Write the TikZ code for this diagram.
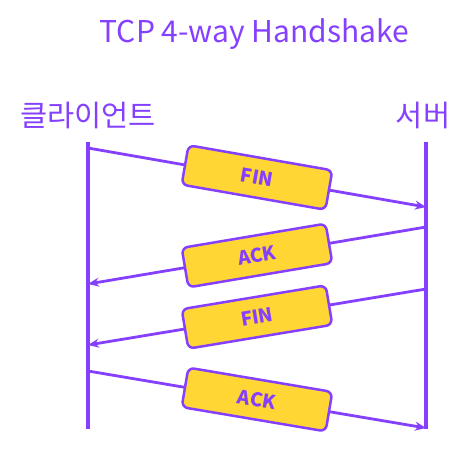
\documentclass[tikz,border=0pt]{standalone}
\usepackage{fontspec}
\setmainfont{Noto Sans CJK KR}
\usetikzlibrary{arrows.meta}

\definecolor{hspurple}{RGB}{133,64,255}
\definecolor{hsyellow}{RGB}{255,214,51}

\tikzset{
	lifeline/.style={line width=3.5pt,color=hspurple},
	msgline/.style={line width=2.8pt,color=hspurple,-{Stealth[length=11pt,width=9pt]}},
	packet/.style={draw=hspurple,line width=2.5pt,fill=hsyellow,rounded corners=6pt,
		minimum width=146pt,minimum height=40pt,text=hspurple,
		font=\fontsize{19}{19}\selectfont\bfseries,sloped,midway},
	heading/.style={text=hspurple,font=\fontsize{30}{30}\selectfont,inner sep=0pt},
}

\begin{document}
\begin{tikzpicture}[x=1pt,y=-1pt]
	\useasboundingbox (0,0) rectangle (469,459);
	\node[heading,anchor=base] (title) at (254.5,42) {TCP 4-way Handshake};
	\node[heading,font=\fontsize{29.5}{29.5}\selectfont] (client) at (88,115) {클라이언트};
	\node[heading,font=\fontsize{29.5}{29.5}\selectfont] (server) at (423,115) {서버};
	% the two lifelines
	\coordinate (ctop) at (88,142); \coordinate (cbot) at (88,429);
	\coordinate (stop) at (426,142); \coordinate (sbot) at (426,429);
	\draw[lifeline] (ctop) -- (cbot);% client
	\draw[lifeline] (stop) -- (sbot);% server
	% end points of the four segments
	\coordinate (c1) at (88,148); \coordinate (s1) at (426,207);
	\coordinate (s2) at (426,227); \coordinate (c2) at (88,284);
	\coordinate (s3) at (426,289); \coordinate (c3) at (88,345);
	\coordinate (c4) at (88,371); \coordinate (s4) at (426,428);
	\draw[msgline] (c1) -- (s1) node[packet] (fin1) {FIN};
	\draw[msgline] (s2) -- (c2) node[packet] (ack1) {ACK};
	\draw[msgline] (s3) -- (c3) node[packet] (fin2) {FIN};
	\draw[msgline] (c4) -- (s4) node[packet] (ack2) {ACK};
\end{tikzpicture}
\end{document}
